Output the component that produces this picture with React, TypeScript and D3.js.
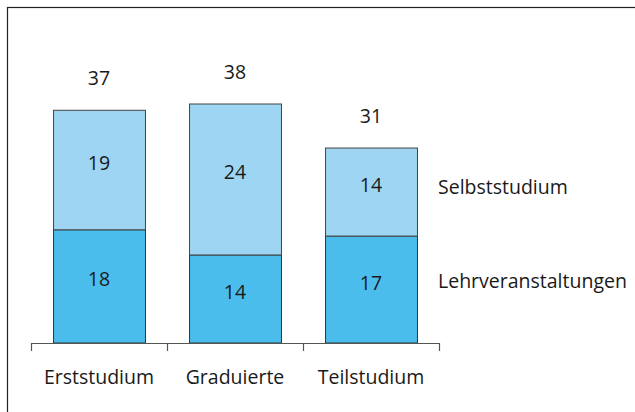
import React from "react";
import * as d3 from "d3";

const categories = ["Erststudium", "Graduierte", "Teilstudium"];
const lehrveranstaltungen = [18, 14, 17];
const selbststudium = [19, 24, 14];
const totals = [37, 38, 31];
const seriesLabels = ["Lehrveranstaltungen", "Selbststudium"];

const W = 635;
const H = 412;
const FONT = "'Open Sans', 'Noto Sans', sans-serif";

export default function App() {
  const x = d3
    .scaleBand<string>()
    .domain(categories)
    .range([31, 439])
    .paddingInner(0.324)
    .paddingOuter(0.162);
  const y = d3.scaleLinear().domain([0, 38]).range([343, 104]);
  const step = x.step();
  const rows = categories.map((c, i) => ({
    c,
    lo: lehrveranstaltungen[i],
    hi: selbststudium[i],
    total: totals[i],
  }));
  const tickXs = d3.range(categories.length + 1).map((i) => 31 + i * step);
  const last = rows[rows.length - 1];
  const legendX = 438;
  const loMid = (y(0) + y(last.lo)) / 2;
  const hiMid = (y(last.lo) + y(last.lo + last.hi)) / 2;

  return (
    <svg
      width={W}
      height={H}
      style={{ position: "absolute", left: 0, top: 0 }}
      fontFamily={FONT}
    >
      <rect x={0} y={0} width={W} height={H} fill="#fff" />
      <rect x={7.5} y={7.5} width={700} height={500} fill="none" stroke="#222" strokeWidth={1.2} />
      {rows.map((r) => {
        const bx = x(r.c)!;
        const bw = x.bandwidth();
        const yLo = y(r.lo);
        const yTop = y(r.lo + r.hi);
        return (
          <g key={r.c}>
            <rect x={bx + 0.5} y={yLo} width={bw} height={y(0) - yLo} fill="#4bbdec" stroke="#333" strokeWidth={1} />
            <rect x={bx + 0.5} y={yTop} width={bw} height={yLo - yTop} fill="#9dd5f2" stroke="#444" strokeWidth={1} />
            <text x={bx + bw / 2} y={(y(0) + yLo) / 2} textAnchor="middle" fontSize={19.5} fill="#1a1a1a">
              {r.lo}
            </text>
            <text x={bx + bw / 2} y={(yLo + yTop) / 2} textAnchor="middle" fontSize={19.5} fill="#1a1a1a">
              {r.hi}
            </text>
            <text x={bx + bw / 2} y={yTop - 25} textAnchor="middle" fontSize={19.5} fill="#1a1a1a">
              {r.total}
            </text>
            <text x={bx + bw / 2} y={384} textAnchor="middle" fontSize={19.5} fill="#1a1a1a">
              {r.c}
            </text>
          </g>
        );
      })}
      <line x1={31} x2={439} y1={343.5} y2={343.5} stroke="#555" strokeWidth={1.2} />
      {tickXs.map((t, i) => (
        <line key={i} x1={t + 0.5} x2={t + 0.5} y1={343} y2={351} stroke="#555" strokeWidth={1.2} />
      ))}
      <text x={legendX} y={hiMid + 2} fontSize={19.5} fill="#1a1a1a">
        {seriesLabels[1]}
      </text>
      <text x={legendX} y={loMid - 2} fontSize={19.5} fill="#1a1a1a">
        {seriesLabels[0]}
      </text>
    </svg>
  );
}
